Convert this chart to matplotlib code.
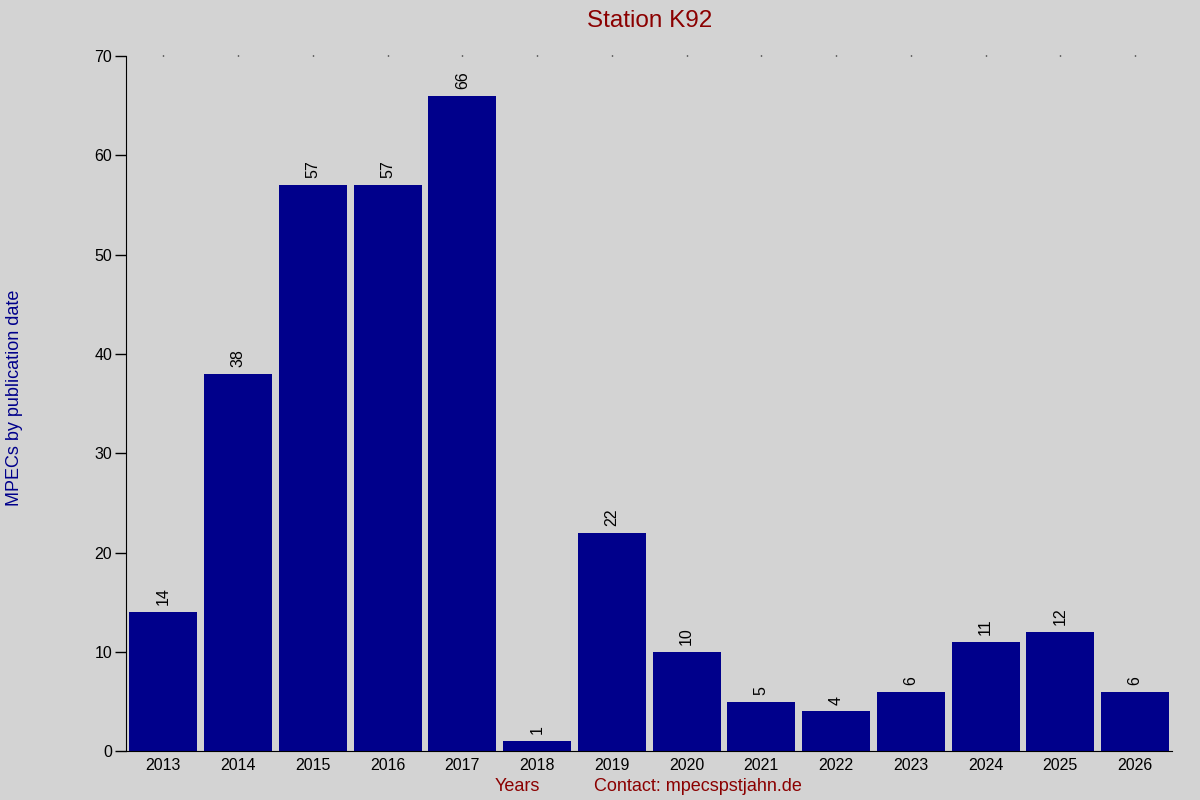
import matplotlib
matplotlib.use("Agg")
import matplotlib.pyplot as plt

plt.rcParams['font.family'] = ['Liberation Sans', 'DejaVu Sans']

# Data
years = ['2013', '2014', '2015', '2016', '2017', '2018', '2019',
         '2020', '2021', '2022', '2023', '2024', '2025', '2026']
mpecs = [14, 38, 57, 57, 66, 1, 22, 10, 5, 4, 6, 11, 12, 6]

bg = '#d3d3d3'
fig = plt.figure(figsize=(12, 8), dpi=100, facecolor=bg)
ax = fig.add_axes([0.105, 0.061, 0.872, 0.869], facecolor=bg)

x = range(len(years))
bars = ax.bar(x, mpecs, width=0.91, color='#00008b')

for b, v in zip(bars, mpecs):
    ax.text(b.get_x() + b.get_width() / 2, v + 0.7, str(v),
            rotation=90, ha='center', va='bottom', fontsize=11.5)

ax.set_xlim(-0.5, len(years) - 0.5)
ax.set_ylim(0, 70)
ax.set_yticks(range(0, 71, 10))
ax.set_xticks(list(x))
ax.set_xticklabels(years)

for s in ['top', 'right']:
    ax.spines[s].set_visible(False)
ax.tick_params(axis='x', bottom=False, top=True, length=1, width=1,
               labelsize=11.5, pad=4)
ax.tick_params(axis='y', length=8, width=1, labelsize=11.5, pad=2)

ax.set_title("Station K92", color='#8b0000', fontsize=17.5, pad=21)
fig.text(0.012, 0.503, "MPECs by publication date", rotation=90,
         ha='center', va='center', color='#00008b', fontsize=13)
fig.text(0.431, 0.017, "Years", ha='center', va='center',
         color='#8b0000', fontsize=13)
fig.text(0.582, 0.017, "Contact: mpecspstjahn.de", ha='center', va='center',
         color='#8b0000', fontsize=13)

plt.savefig("out.png", facecolor=bg)
